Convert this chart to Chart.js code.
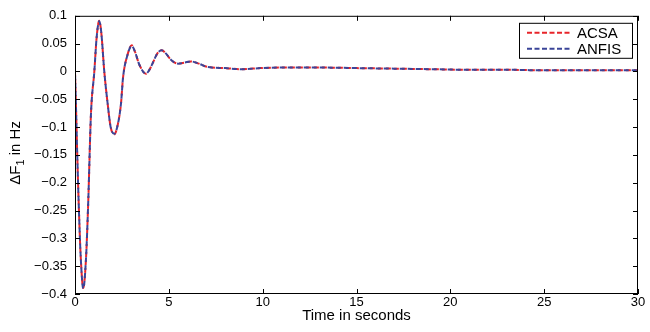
<!DOCTYPE html>
<html>
<head>
<meta charset="utf-8">
<script src="https://cdn.jsdelivr.net/npm/chart.js@4.4.1/dist/chart.umd.min.js"></script>
<style>
  html, body { margin: 0; padding: 0; background: #fff; }
  #wrap { width: 650px; height: 332px; }
</style>
</head>
<body>
<div id="wrap"><canvas id="chart"></canvas></div>
<script>
// time samples (s) and frequency deviation (Hz)
const times = [0, 0.05, 0.12, 0.2, 0.3, 0.44, 0.58, 0.7, 0.85, 1.03, 1.15, 1.29, 1.4, 1.56, 1.74, 1.9, 2.09, 2.25, 2.45, 2.56, 2.8, 3.02, 3.2, 3.43, 3.78, 3.95, 4.14, 4.4, 4.62, 4.85, 5.11, 5.5, 5.85, 6.18, 6.6, 7.07, 8, 8.85, 9.9, 11, 13, 15, 17, 19, 21, 23, 25, 27, 30];
const acsa = [0, -0.06, -0.15, -0.24, -0.33, -0.389, -0.34, -0.24, -0.076, 0, 0.06, 0.091, 0.07, 0, -0.058, -0.1, -0.113, -0.1, -0.058, -0.011, 0.03, 0.047, 0.035, 0.012, -0.004, 0.002, 0.015, 0.033, 0.038, 0.032, 0.021, 0.014, 0.016, 0.018, 0.014, 0.008, 0.006, 0.004, 0.006, 0.007, 0.007, 0.006, 0.005, 0.004, 0.003, 0.003, 0.002, 0.002, 0.002];
const anfis = [0, -0.06, -0.15, -0.24, -0.33, -0.39, -0.34, -0.24, -0.077, 0, 0.06, 0.09, 0.07, 0, -0.058, -0.1, -0.112, -0.1, -0.058, -0.011, 0.03, 0.046, 0.035, 0.012, -0.004, 0.002, 0.015, 0.033, 0.038, 0.032, 0.021, 0.014, 0.016, 0.018, 0.014, 0.008, 0.006, 0.004, 0.006, 0.007, 0.007, 0.006, 0.005, 0.004, 0.003, 0.003, 0.002, 0.002, 0.002];
const xTicks = [0, 5, 10, 15, 20, 25, 30];
const yTicks = [-0.4, -0.35, -0.3, -0.25, -0.2, -0.15, -0.1, -0.05, 0, 0.05, 0.1];
const seriesNames = ['ACSA', 'ANFIS'];

const RED = '#e8242a';
const BLUE = '#3a4498';
const FONT = '"Liberation Sans", Arial, sans-serif';

const fmtTick = v => {
  const s = String(Math.round(v * 100) / 100);
  return s.replace('-', '\u2212');
};

// MATLAB style frame: box on all sides, ticks pointing inward, legend box, y title with subscript
const framePlugin = {
  id: 'frame',
  afterDraw(chart) {
    const { ctx, chartArea: a, scales } = chart;
    ctx.save();
    ctx.strokeStyle = '#000';
    ctx.lineWidth = 1;
    ctx.strokeRect(a.left + 0.5, a.top + 0.5, a.right - a.left - 1, a.bottom - a.top - 1);
    ctx.beginPath();
    for (const t of xTicks) {
      const x = Math.round(scales.x.getPixelForValue(t)) + 0.5;
      ctx.moveTo(x, a.bottom); ctx.lineTo(x, a.bottom - 5);
      ctx.moveTo(x, a.top); ctx.lineTo(x, a.top + 5);
    }
    for (const t of yTicks) {
      const y = Math.round(scales.y.getPixelForValue(t)) + 0.5;
      ctx.moveTo(a.left, y); ctx.lineTo(a.left + 5, y);
      ctx.moveTo(a.right, y); ctx.lineTo(a.right - 5, y);
    }
    ctx.stroke();

    // legend
    const lx = a.right - 119, ly = a.top + 7, lw = 113, lh = 35;
    ctx.fillStyle = '#fff';
    ctx.fillRect(lx, ly, lw, lh);
    ctx.strokeRect(lx + 0.5, ly + 0.5, lw, lh);
    const colors = [RED, BLUE];
    ctx.font = '15px ' + FONT;
    ctx.textBaseline = 'middle';
    seriesNames.forEach((name, i) => {
      const yy = ly + 10 + i * 16;
      ctx.strokeStyle = colors[i];
      ctx.lineWidth = 2;
      ctx.setLineDash([5, 2.5]);
      ctx.beginPath();
      ctx.moveTo(lx + 8, yy); ctx.lineTo(lx + 53, yy);
      ctx.stroke();
      ctx.setLineDash([]);
      ctx.fillStyle = '#000';
      ctx.fillText(name, lx + 58, yy + 1);
    });

    // y axis title: ΔF1 in Hz (1 as subscript)
    ctx.translate(16, (a.top + a.bottom) / 2 - 2);
    ctx.rotate(-Math.PI / 2);
    ctx.fillStyle = '#000';
    ctx.textBaseline = 'middle';
    const p1 = '\u0394F', p3 = ' in Hz';
    ctx.font = '11px ' + FONT;
    const w2 = ctx.measureText('1').width;
    ctx.font = '15px ' + FONT;
    const w1 = ctx.measureText(p1).width, w3 = ctx.measureText(p3).width;
    const x0 = -(w1 + w2 + w3) / 2;
    ctx.fillText(p1, x0, 0);
    ctx.font = '11px ' + FONT;
    ctx.fillText('1', x0 + w1, 5);
    ctx.font = '15px ' + FONT;
    ctx.fillText(p3, x0 + w1 + w2, 0);
    ctx.restore();
  }
};

new Chart(document.getElementById('chart'), {
  type: 'line',
  data: {
    datasets: [
      {
        label: seriesNames[0],
        data: times.map((t, i) => ({ x: t, y: acsa[i] })),
        borderColor: RED,
        borderWidth: 2,
        borderDash: [5, 3],
        pointRadius: 0,
        cubicInterpolationMode: 'monotone',
        order: 2,
      },
      {
        label: seriesNames[1],
        data: times.map((t, i) => ({ x: t, y: anfis[i] })),
        borderColor: BLUE,
        borderWidth: 2,
        borderDash: [5, 3],
        borderDashOffset: 4,
        pointRadius: 0,
        cubicInterpolationMode: 'monotone',
        order: 1,
      }
    ]
  },
  options: {
    responsive: true,
    maintainAspectRatio: false,
    animation: false,
    events: [],
    layout: { padding: { top: 10, right: 12, left: 0, bottom: 7 } },
    plugins: { legend: { display: false }, tooltip: { enabled: false } },
    scales: {
      x: {
        type: 'linear',
        min: 0, max: 30,
        afterBuildTicks: s => { s.ticks = xTicks.map(v => ({ value: v })); },
        afterFit: s => { s.height = 31; },
        grid: { display: false, drawTicks: false },
        border: { display: false },
        ticks: { color: '#000', font: { family: FONT, size: 13 }, padding: 1, maxRotation: 0 },
        title: { display: true, text: 'Time in seconds', color: '#000', font: { family: FONT, size: 15 }, padding: { top: 0, bottom: 0 } }
      },
      y: {
        type: 'linear',
        min: -0.4, max: 0.1,
        afterBuildTicks: s => { s.ticks = yTicks.map(v => ({ value: v })); },
        afterFit: s => { s.width = 75; },
        grid: { display: false, drawTicks: false },
        border: { display: false },
        ticks: { color: '#000', font: { family: FONT, size: 13 }, padding: 8, callback: v => fmtTick(v) }
      }
    }
  },
  plugins: [framePlugin]
});
</script>
</body>
</html>
